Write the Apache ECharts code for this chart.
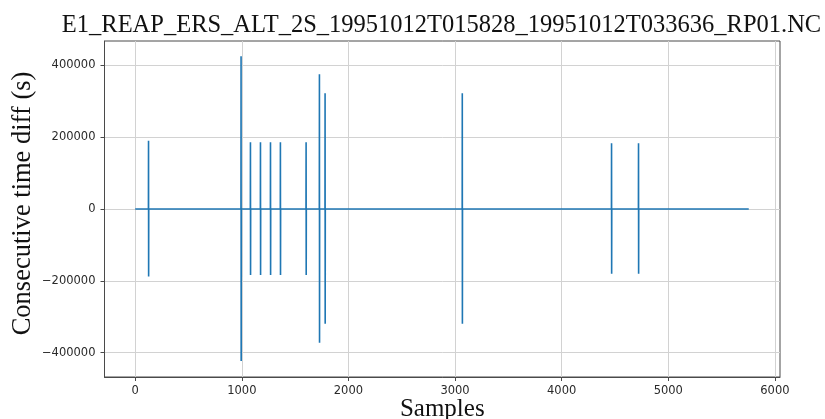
<!DOCTYPE html>
<html>
<head>
<meta charset="utf-8">
<script src="https://cdn.jsdelivr.net/npm/echarts@6/dist/echarts.min.js"></script>
<style>
  html, body { margin: 0; padding: 0; background: #fff; }
  #chart { width: 825px; height: 419px; }
</style>
</head>
<body>
<div id="chart"></div>
<script>
// spike positions (sample index) and their up / down values
const spikeSamples = [125, 993, 1081, 1175, 1269, 1362, 1603, 1728, 1781, 3068, 4468, 4721];
const spikeHighs = [190000, 425000, 186000, 186000, 186000, 186000, 186000, 375000, 322000, 322000, 183000, 183000];
const spikeLows = [-188000, -423000, -184000, -184000, -184000, -184000, -184000, -372000, -319000, -319000, -180000, -180000];
const sampleCount = 5755;

const xTicks = [0, 1000, 2000, 3000, 4000, 5000, 6000];
const yTicks = [-400000, -200000, 0, 200000, 400000];

const chartTitle = "E1_REAP_ERS_ALT_2S_19951012T015828_19951012T033636_RP01.NC";

// baseline at zero, each spike goes up then down over two samples
const lineData = [[0, 0]];
spikeSamples.forEach((s, i) => {
	lineData.push([s - 1, 0]);
	lineData.push([s, spikeHighs[i]]);
	lineData.push([s + 1, spikeLows[i]]);
	lineData.push([s + 2, 0]);
});
lineData.push([sampleCount, 0]);

const chart = echarts.init(document.getElementById("chart"));

const frameColor = "#4a4a4a";
const gridColor = "#d2d2d2";
const tickFont = { fontFamily: "DejaVu Sans", fontSize: 11.5, color: "#2a2a2a" };
// plain numbers, matplotlib style minus sign
const plainNum = (v) => (v < 0 ? "\u2212" + (-v) : String(v));

const option = {
	animation: false,
	title: {
		text: chartTitle,
		left: 441.5,
		top: 13,
		padding: 0,
		textAlign: "center",
		textStyle: { fontFamily: "Liberation Serif", fontSize: 24.5, fontWeight: "normal", color: "#111" },
	},
	grid: {
		left: 104.5,
		right: 45,
		top: 41,
		bottom: 42,
		outerBoundsMode: "none",
		containLabel: false,
		show: true,
		borderColor: frameColor,
		borderWidth: 1,
	},
	xAxis: {
		type: "value",
		min: -288,
		max: 6048,
		name: "Samples",
		nameLocation: "middle",
		nameGap: 20,
		nameMoveOverlap: false,
		nameTextStyle: { fontFamily: "Liberation Serif", fontSize: 25, color: "#111" },
		axisLine: { show: true, onZero: false, lineStyle: { color: frameColor } },
		axisTick: { show: true, length: 4, customValues: xTicks, lineStyle: { color: frameColor } },
		axisLabel: { customValues: xTicks, margin: 8, ...tickFont, formatter: plainNum },
		splitLine: { show: true, lineStyle: { color: gridColor, width: 1 } },
	},
	yAxis: {
		type: "value",
		min: -467500,
		max: 467500,
		name: "Consecutive time diff (s)",
		nameLocation: "middle",
		nameGap: 68,
		nameMoveOverlap: false,
		nameTextStyle: { fontFamily: "Liberation Serif", fontSize: 26.5, color: "#111", padding: [0, 0, 0, 11] },
		axisLine: { show: true, onZero: false, lineStyle: { color: frameColor } },
		axisTick: { show: true, length: 4, customValues: yTicks, lineStyle: { color: frameColor } },
		axisLabel: { customValues: yTicks, margin: 9, ...tickFont, formatter: plainNum },
		splitLine: { show: true, lineStyle: { color: gridColor, width: 1 } },
	},
	series: [
		{
			type: "line",
			data: lineData,
			showSymbol: false,
			symbol: "none",
			lineStyle: { color: "#1f77b4", width: 1.6 },
		},
	],
};

chart.setOption(option);
</script>
</body>
</html>
